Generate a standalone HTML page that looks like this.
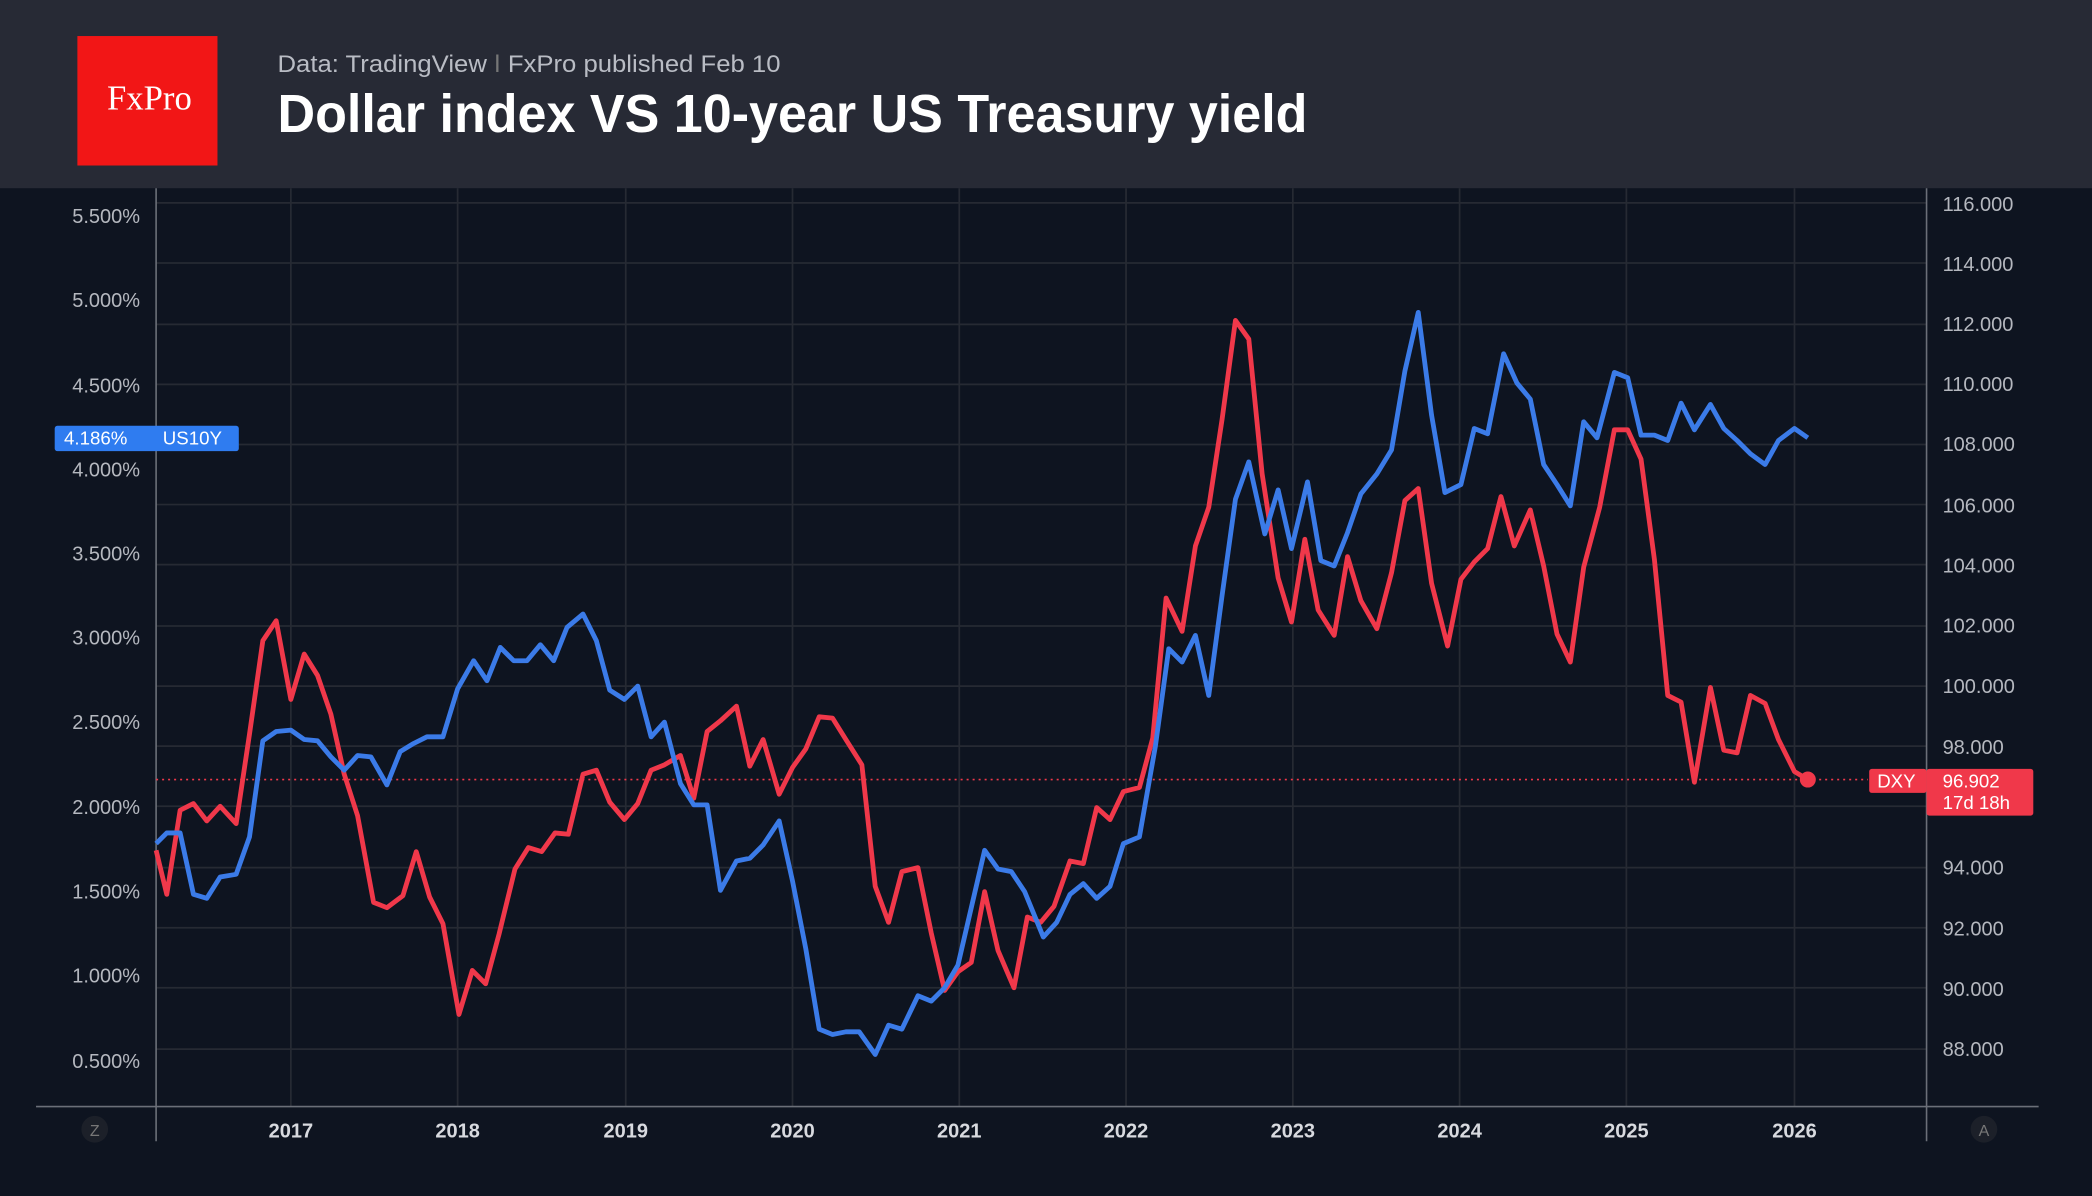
<!DOCTYPE html>
<html><head><meta charset="utf-8"><style>
html,body{margin:0;padding:0;background:#0e1420;overflow:hidden}
svg{display:block}
text{font-family:"Liberation Sans",sans-serif}
</style></head><body>
<svg width="2092" height="1196" viewBox="0 0 1568 896" preserveAspectRatio="none" xmlns="http://www.w3.org/2000/svg">
<rect x="0" y="0" width="1568" height="896" fill="#0e1420"/>
<rect x="0" y="0" width="1568" height="141" fill="#272a35"/>
<rect x="58" y="27" width="105" height="97" fill="#f21616"/>
<text x="112" y="82" fill="#fff" font-size="26" text-anchor="middle" style="font-family:'Liberation Serif',serif">FxPro</text>
<text x="208" y="54" fill="#b9bcc4" font-size="18" textLength="377" lengthAdjust="spacingAndGlyphs">Data: TradingView <tspan fill="#777">ǀ</tspan> FxPro published Feb 10</text>
<text x="208" y="99" fill="#ffffff" font-size="40" font-weight="bold" textLength="772" lengthAdjust="spacingAndGlyphs">Dollar index VS 10-year US Treasury yield</text>
<g stroke="#262a33" stroke-width="1.3">
<line x1="117" y1="152" x2="1444" y2="152"/><line x1="117" y1="197" x2="1444" y2="197"/><line x1="117" y1="243" x2="1444" y2="243"/><line x1="117" y1="288" x2="1444" y2="288"/><line x1="117" y1="333" x2="1444" y2="333"/><line x1="117" y1="378" x2="1444" y2="378"/><line x1="117" y1="423" x2="1444" y2="423"/><line x1="117" y1="469" x2="1444" y2="469"/><line x1="117" y1="514" x2="1444" y2="514"/><line x1="117" y1="559" x2="1444" y2="559"/><line x1="117" y1="604" x2="1444" y2="604"/><line x1="117" y1="650" x2="1444" y2="650"/><line x1="117" y1="695" x2="1444" y2="695"/><line x1="117" y1="740" x2="1444" y2="740"/><line x1="117" y1="786" x2="1444" y2="786"/>
<line x1="218" y1="141" x2="218" y2="829"/><line x1="343" y1="141" x2="343" y2="829"/><line x1="469" y1="141" x2="469" y2="829"/><line x1="594" y1="141" x2="594" y2="829"/><line x1="719" y1="141" x2="719" y2="829"/><line x1="844" y1="141" x2="844" y2="829"/><line x1="969" y1="141" x2="969" y2="829"/><line x1="1094" y1="141" x2="1094" y2="829"/><line x1="1219" y1="141" x2="1219" y2="829"/><line x1="1345" y1="141" x2="1345" y2="829"/>
</g>
<g stroke="#6b6f78" stroke-width="1.2">
<line x1="117" y1="141" x2="117" y2="855"/><line x1="1444" y1="141" x2="1444" y2="855"/><line x1="27" y1="829" x2="1528" y2="829"/>
</g>
<g fill="#b5b8bf" font-size="15" text-anchor="end">
<text x="105" y="167">5.500%</text><text x="105" y="230">5.000%</text><text x="105" y="294">4.500%</text><text x="105" y="357">4.000%</text><text x="105" y="420">3.500%</text><text x="105" y="483">3.000%</text><text x="105" y="546">2.500%</text><text x="105" y="610">2.000%</text><text x="105" y="673">1.500%</text><text x="105" y="736">1.000%</text><text x="105" y="800">0.500%</text>
</g>
<g fill="#b5b8bf" font-size="15">
<text x="1456" y="158">116.000</text><text x="1456" y="203">114.000</text><text x="1456" y="248">112.000</text><text x="1456" y="293">110.000</text><text x="1456" y="338">108.000</text><text x="1456" y="384">106.000</text><text x="1456" y="429">104.000</text><text x="1456" y="474">102.000</text><text x="1456" y="519">100.000</text><text x="1456" y="565">98.000</text><text x="1456" y="655">94.000</text><text x="1456" y="701">92.000</text><text x="1456" y="746">90.000</text><text x="1456" y="791">88.000</text>
</g>
<g fill="#d8dadf" font-size="15" font-weight="bold" text-anchor="middle">
<text x="218" y="852">2017</text><text x="343" y="852">2018</text><text x="469" y="852">2019</text><text x="594" y="852">2020</text><text x="719" y="852">2021</text><text x="844" y="852">2022</text><text x="969" y="852">2023</text><text x="1094" y="852">2024</text><text x="1219" y="852">2025</text><text x="1345" y="852">2026</text>
</g>
<circle cx="71" cy="846" r="10" fill="#1c2029"/><text x="71" y="851" fill="#777" font-size="12" text-anchor="middle">Z</text>
<circle cx="1487" cy="846" r="10" fill="#1c2029"/><text x="1487" y="851" fill="#777" font-size="12" text-anchor="middle">A</text>
<line x1="117" y1="584" x2="1400" y2="584" stroke="#f0384a" stroke-width="1.2" stroke-dasharray="1.5 3"/>
<polyline fill="none" stroke="#f0384a" stroke-width="3.6" stroke-linejoin="round" points="117,637 125,670 135,607 145,602 155,615 165,604 177,617 187,550 197,480 207,465 218,524 228,490 238,506 248,535 258,580 268,611 280,676 290,680 302,671 312,638 322,672 332,692 344,760 354,727 364,737 374,700 386,651 396,635 406,638 416,624 426,625 437,580 447,577 457,601 468,614 478,602 488,577 498,573 510,566 520,598 530,548 540,540 552,529 562,574 572,554 584,595 594,575 604,561 614,537 624,538 634,554 646,573 656,664 666,691 676,653 688,650 698,699 708,742 718,728 728,721 738,668 748,712 760,740 770,687 780,691 790,679 802,645 812,647 822,605 832,614 842,593 854,590 864,553 874,448 886,473 896,409 906,380 916,314 926,240 936,254 946,355 958,433 968,466 978,404 988,457 1000,476 1010,417 1020,450 1032,471 1043,429 1053,375 1063,366 1073,437 1085,484 1095,434 1105,421 1115,411 1125,372 1135,409 1147,382 1157,424 1167,475 1177,496 1187,425 1199,380 1210,322 1220,322 1230,344 1240,419 1250,521 1260,526 1270,586 1282,515 1292,562 1302,564 1312,521 1323,527 1333,554 1345,578 1355,584"/>
<polyline fill="none" stroke="#3b7be8" stroke-width="3.6" stroke-linejoin="round" points="117,632 125,624 135,624 145,670 155,673 165,657 177,655 187,627 197,555 207,548 218,547 228,554 238,555 248,567 258,577 268,566 278,567 290,588 300,563 310,557 320,552 332,552 343,516 355,495 365,510 375,485 385,495 395,495 405,483 415,495 425,470 437,460 447,480 457,517 468,524 478,514 488,552 498,541 510,587 520,603 530,603 540,667 552,645 562,643 572,633 584,615 594,660 604,711 614,771 624,775 634,773 644,773 656,790 666,768 676,771 688,746 698,750 708,740 718,723 728,680 738,637 748,651 758,653 768,668 782,702 792,691 802,670 812,662 822,673 832,664 842,632 854,627 866,559 876,486 886,496 896,476 906,521 916,446 926,374 936,346 948,400 958,367 968,411 980,361 990,420 1000,424 1010,399 1020,370 1032,355 1043,337 1053,278 1063,234 1073,311 1083,369 1095,363 1105,321 1115,325 1127,265 1137,287 1147,299 1157,348 1167,363 1177,379 1187,316 1197,328 1210,279 1220,283 1230,326 1240,326 1250,330 1260,302 1270,322 1282,303 1292,321 1302,330 1312,340 1323,348 1333,330 1345,321 1355,328"/>
<circle cx="1355" cy="584" r="6" fill="#f0384a"/>
<rect x="41" y="319" width="138" height="19" rx="2" fill="#2f7cf0"/>
<text x="48" y="333" fill="#fff" font-size="14">4.186%</text><text x="122" y="333" fill="#fff" font-size="14">US10Y</text>
<rect x="1401" y="576" width="43" height="18" rx="2" fill="#f0384a"/>
<text x="1407" y="590" fill="#fff" font-size="14">DXY</text>
<rect x="1444" y="576" width="80" height="35" rx="2" fill="#f0384a"/>
<text x="1456" y="590" fill="#fff" font-size="14">96.902</text>
<text x="1456" y="606" fill="#fff" font-size="14">17d 18h</text>
</svg>
</body></html>
